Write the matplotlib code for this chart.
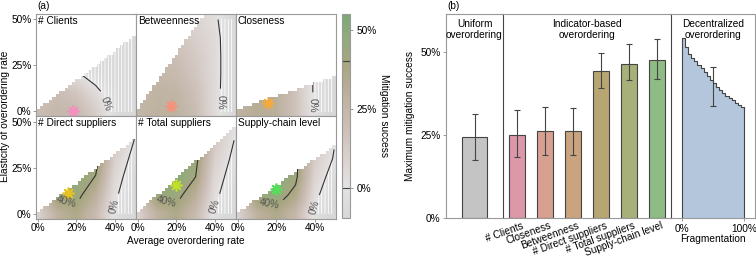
import numpy as np
import matplotlib
matplotlib.use("Agg")
import matplotlib.pyplot as plt
import matplotlib.cm as cm
from matplotlib.colors import LinearSegmentedColormap, Normalize
from matplotlib.patches import Polygon

plt.rcParams['font.family'] = ['Liberation Sans', 'DejaVu Sans']
plt.rcParams['font.size'] = 7.3
plt.rcParams['hatch.color'] = 'white'
plt.rcParams['hatch.linewidth'] = 0.6

# ---------------- data: panel (a) ----------------
panel_names = ["# Clients", "Betweenness", "Closeness",
               "# Direct suppliers", "# Total suppliers", "Supply-chain level"]

# coarse reading of mitigation success (%) at these nodes, rows = elasticity
grid_x = [0, 10, 20, 30, 40, 50]
grid_y = [0, 10, 20, 30, 40, 50]

clients_grid = [[20, 24, 22, 11, -5, -15],
                [15, 20, 15, 4, -8, -18],
                [6, 8, 2, -6, -15, -20],
                [0, 0, -6, -12, -18, -20],
                [-5, -6, -10, -15, -20, -20],
                [-5, -6, -10, -15, -20, -20]]
betweenness_grid = [[25, 29, 28, 20, 4, -10],
                    [23, 27, 26, 18, 4, -10],
                    [20, 24, 22, 15, 4.5, -10],
                    [17, 21, 19, 13, 4.5, -10],
                    [14, 18, 16, 10, 4, -10],
                    [12, 15, 13, 8, 2, -10]]
closeness_grid = [[28, 32, 30, 17, -2, -12],
                  [28, 32, 30, 17, -2, -12],
                  [26, 30, 28, 16, -2, -12],
                  [26, 30, 28, 16, -2, -12],
                  [26, 30, 28, 16, -2, -12],
                  [26, 30, 28, 16, -2, -12]]
direct_grid = [[8, 28, 36, 22, -2, -12],
               [15, 44, 44, 30, 2, -10],
               [20, 46, 48, 39.5, 6, -8],
               [20, 45, 50, 46, 10, -4],
               [20, 45, 50, 48, 16, 0],
               [20, 45, 50, 48, 16, 0]]
total_grid = [[8, 28, 36, 22, -2, -12],
              [15, 44, 44, 31, 3, -10],
              [20, 46, 50, 40, 6, -6],
              [20, 46, 52, 44, 10, -3],
              [20, 46, 52, 46, 14, 0],
              [20, 46, 52, 48, 16, 2]]
scl_grid = [[8, 28, 36, 24, -2, -12],
            [15, 44, 46, 36, 3, -10],
            [20, 46, 48, 43, 8, -6],
            [20, 46, 50, 44, 12, -1],
            [20, 46, 50, 46, 14, 1],
            [20, 46, 50, 46, 14, 1]]

# number of filled cells in each of the 31 columns (staircase of valid region)
clients_tops = [1, 2, 3, 3, 4, 5, 6, 7, 7, 8, 9, 10, 11, 11, 12, 13, 14, 15, 15, 16,
                17, 18, 19, 19, 20, 21, 22, 23, 23, 24, 25]
betweenness_tops = [1, 3, 4, 6, 7, 9, 10, 12, 13, 15, 16, 18, 19, 21, 22, 24, 25, 27, 28, 30,
                    31, 33, 33, 33, 33, 33, 33, 33, 33, 33, 33]
closeness_tops = [1, 1, 2, 2, 2, 3, 3, 4, 4, 4, 5, 5, 5, 6, 6, 6, 7, 7, 7, 8,
                  8, 9, 9, 9, 10, 10, 10, 11, 11, 11, 12]
direct_tops = [1, 2, 3, 3, 4, 5, 6, 7, 7, 8, 9, 10, 10, 11, 12, 13, 14, 14, 15, 16,
               17, 18, 18, 19, 20, 21, 22, 22, 23, 24, 25]
total_tops = [1, 2, 3, 4, 5, 6, 7, 7, 8, 9, 10, 11, 12, 13, 14, 15, 16, 17, 18, 18,
              19, 20, 21, 22, 23, 24, 25, 26, 27, 28, 29]
scl_tops = [1, 2, 2, 3, 4, 5, 5, 6, 7, 7, 8, 9, 10, 10, 11, 12, 13, 13, 14, 15,
            15, 16, 17, 18, 18, 19, 20, 20, 21, 22, 23]

contour_levels = [[0], [0], [0], [0, 40], [0, 40], [0, 40]]
label_spots = [[(35, 4)], [(41, 5)], [(38, 3)],
               [(14.5, 5.5), (39.5, 4)], [(14.5, 5), (39, 4.3)], [(16, 5), (40, 3.3)]]

star_x = [18, 17, 15.5, 15.5, 19.7, 19.7]
star_y = [0, 2.7, 4.4, 11.4, 15.8, 13.6]
star_colors = ['#f48fbf', '#f5937a', '#f6aa3c', '#e9c21e', '#c2e02a', '#55e05a']

# ---------------- data: panel (b) ----------------
uniform_val, uniform_lo, uniform_hi = 24.5, 17.5, 31.5
indicators = ["# Clients", "Closeness", "Betweenness", "# Direct suppliers",
              "# Total suppliers", "Supply-chain level"]
indicator_vals = [25.0, 26.2, 26.2, 44.5, 46.6, 47.6]
indicator_lo = [18.4, 19.0, 19.0, 39.2, 41.7, 42.0]
indicator_hi = [32.6, 33.6, 33.2, 49.8, 52.6, 54.0]
bar_colors = ['#dc98a8', '#d7a091', '#c9a47f', '#b8a672', '#a7b079', '#8fbb84']

fragmentation = [0, 5, 10, 15, 20, 25, 30, 35, 40, 45, 50, 55, 60, 65, 70, 75, 80, 85, 90, 95, 100]
decentral_vals = [54.5, 51.5, 49.5, 48.3, 47.3, 46.2, 45.2, 44.0, 42.8, 41.7, 40.7,
                  39.7, 38.7, 37.8, 36.9, 36.2, 35.5, 34.8, 34.1, 33.4, 32.8]
decentral_err = (50, 40.7, 33.8, 45.5)

# ---------------- figure ----------------
W, H = 756, 257
fig = plt.figure(figsize=(W / 100, H / 100), dpi=100)


def box(x, y, w, h):
    return [x / W, 1 - (y + h) / H, w / W, h / H]


cmap_vals = [-9.5, 0, 10, 20, 28, 34, 40, 48, 55]
cmap_cols = ['#d8d8d8', '#e4e2e2', '#d9d0cc', '#cabdb4', '#bfb3a2', '#b3ab8f',
             '#a6a67f', '#8fab7c', '#7ca876']
norm = Normalize(-9.5, 55)
cmap = LinearSegmentedColormap.from_list(
    'mit', [((v - cmap_vals[0]) / (cmap_vals[-1] - cmap_vals[0]), c) for v, c in zip(cmap_vals, cmap_cols)])

grids = [clients_grid, betweenness_grid, closeness_grid, direct_grid, total_grid, scl_grid]
tops_all = [clients_tops, betweenness_tops, closeness_tops, direct_tops, total_tops, scl_tops]
d = 50 / 30
ybot = -3
X, Y = np.meshgrid(grid_x, grid_y)

for k in range(6):
    r, c = divmod(k, 3)
    ax = fig.add_axes(box(36 + 100 * c, 14 + 102.5 * r, 100, 102.5))
    vals = np.array(grids[k], float)
    im = ax.imshow(vals, origin='lower', extent=(-5, 55, -5, 55), cmap=cmap, norm=norm,
                   interpolation='bilinear', aspect='auto')

    verts = [(-d / 2, ybot)]
    for i, n in enumerate(tops_all[k]):
        verts += [((i - 0.5) * d, (n - 0.5) * d), ((i + 0.5) * d, (n - 0.5) * d)]
    verts.append(((len(tops_all[k]) - 0.5) * d, ybot))
    clip = Polygon(verts, closed=True, transform=ax.transData, fc='none', ec='none')
    im.set_clip_path(clip)

    neg = ax.contourf(X, Y, vals, levels=[-100, 0], colors='none', hatches=['|||||'])
    neg.set_clip_path(clip)

    cs = ax.contour(X, Y, vals, levels=contour_levels[k], colors='#333333', linewidths=0.8)
    cs.set_clip_path(clip)
    ax.clabel(cs, fmt=lambda v: f"{v:.0f}%", fontsize=7.3, inline=True,
              manual=label_spots[k], colors='#555555')

    ax.plot([star_x[k]], [star_y[k]], ls='none', marker=(8, 2, 0), ms=8.5, mew=1.2,
            color=star_colors[k])

    ax.set_xlim(-1, 51)
    ax.set_ylim(ybot, 53)
    ax.set_xticks([0, 20, 40])
    ax.set_yticks([0, 25, 50])
    ax.set_xticklabels(['0%', '20%', '40%'])
    ax.set_yticklabels(['0%', '25%', '50%'])
    ax.tick_params(length=2, width=0.6, color='#888888', pad=1.2)
    if c > 0:
        ax.tick_params(left=False, labelleft=False)
    if r == 0:
        ax.tick_params(bottom=False, labelbottom=False)
    for s in ax.spines.values():
        s.set_color('#999999')
        s.set_linewidth(0.8)
    ax.text(0.02, 0.985, panel_names[k], transform=ax.transAxes, ha='left', va='top')

cax = fig.add_axes(box(342, 14, 8, 204))
cb = fig.colorbar(cm.ScalarMappable(norm=norm, cmap=cmap), cax=cax, ticks=[0, 25, 50])
cb.ax.set_yticklabels(['0%', '25%', '50%'])
cb.ax.axhline(0, color='#444444', lw=0.8)
cb.ax.axhline(40, color='#444444', lw=0.8)
cb.outline.set_edgecolor('#999999')
cb.ax.tick_params(length=2.5, width=0.6, color='#888888', pad=2)

fig.text(384 / W, 1 - 116 / H, 'Mitigation success', rotation=270, ha='center', va='center')
fig.text(5 / W, 1 - 116 / H, 'Elasticity of overordering rate', rotation=90, ha='center', va='center')
fig.text(186 / W, 1 - 241 / H, 'Average overordering rate', ha='center', va='center')
fig.text(37 / W, 1 - 1 / H, '(a)', ha='left', va='top')
fig.text(447 / W, 1 - 1 / H, '(b)', ha='left', va='top')

# ---------------- panel (b) ----------------
ax_u = fig.add_axes(box(446, 14, 57, 204))
ax_i = fig.add_axes(box(503, 14, 168, 204))
ax_d = fig.add_axes(box(671, 14, 84, 204))
err_kw = dict(fmt='none', ecolor='#444444', elinewidth=0.8, capsize=2, capthick=0.8)

ax_u.bar([0], [uniform_val], width=0.88, color='#c4c4c4', edgecolor='#444444', lw=0.8)
ax_u.errorbar([0], [uniform_val], yerr=[[uniform_val - uniform_lo], [uniform_hi - uniform_val]], **err_kw)
ax_u.set_xlim(-1, 1)

pos = np.arange(len(indicators))
vals_i = np.array(indicator_vals)
ax_i.bar(pos, vals_i, width=0.6, color=bar_colors, edgecolor='#444444', lw=0.8)
ax_i.errorbar(pos, vals_i, yerr=[vals_i - np.array(indicator_lo), np.array(indicator_hi) - vals_i], **err_kw)
ax_i.set_xlim(-0.5, 5.5)
ax_i.set_xticks(pos + 0.15)
ax_i.set_xticklabels(indicators, rotation=20, ha='right', rotation_mode='anchor')

ax_d.fill_between(fragmentation, decentral_vals, step='post', color='#b3c6dc', lw=0)
ax_d.plot(fragmentation, decentral_vals, drawstyle='steps-post', color='#444444', lw=0.8)
ax_d.vlines([fragmentation[0], fragmentation[-1]], 0, [decentral_vals[0], decentral_vals[-2]],
            color='#444444', lw=0.8)
fx, fy, flo, fhi = decentral_err
ax_d.errorbar([fx], [fy], yerr=[[fy - flo], [fhi - fy]], **err_kw)
ax_d.set_xlim(-17.7, 117.7)
ax_d.set_xticks([0, 100])
ax_d.set_xticklabels(['0%', '100%'])
ax_d.set_xlabel('Fragmentation', labelpad=0)

for a in (ax_u, ax_i, ax_d):
    a.set_ylim(0, 61.6)
    for s in a.spines.values():
        s.set_color('#999999')
        s.set_linewidth(0.8)
    a.tick_params(length=2.5, width=0.6, color='#888888', pad=1.5)
ax_u.set_xticks([])
ax_u.set_yticks([0, 25, 50])
ax_u.set_yticklabels(['0%', '25%', '50%'])
ax_u.set_ylabel('Maximum mitigation success', labelpad=4)
ax_u.spines['right'].set_visible(False)
ax_i.spines['right'].set_visible(False)
ax_i.spines['left'].set_color('#444444')
ax_d.spines['left'].set_color('#444444')
ax_i.tick_params(left=False, labelleft=False, length=0, pad=2)
ax_d.tick_params(left=False, labelleft=False)

ax_u.text(0.5, 0.975, 'Uniform\noverordering', transform=ax_u.transAxes, ha='center', va='top', linespacing=1.15)
ax_i.text(0.5, 0.975, 'Indicator-based\noverordering', transform=ax_i.transAxes, ha='center', va='top', linespacing=1.15)
ax_d.text(0.5, 0.975, 'Decentralized\noverordering', transform=ax_d.transAxes, ha='center', va='top', linespacing=1.15)

fig.savefig('out.png', dpi=100)
